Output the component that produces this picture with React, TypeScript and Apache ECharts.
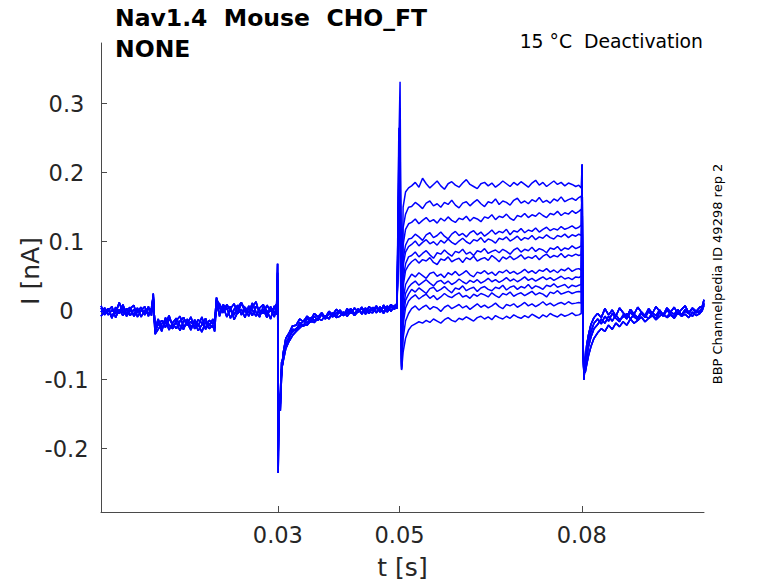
import React, { useEffect, useRef } from "react";
import * as echarts from "echarts";

// ---- time bases (ms) ----
const PRE_T: number[] = [
  0.9, 1.5, 2.1, 2.7, 3.3, 3.9, 4.5, 5.1, 5.7, 6.3, 6.9, 7.5, 8.1, 8.7, 9.2,
  9.5, 9.8,
  10.3, 10.9, 11.5, 12.1, 12.7, 13.3, 13.9, 14.5, 15.1, 15.7, 16.3, 16.9, 17.5, 18.1, 18.7, 19.3,
  19.6, 19.9,
  20.4, 21.0, 21.6, 22.2, 22.8, 23.4, 24.0, 24.6, 25.2, 25.8, 26.4, 27.0, 27.6, 28.2, 28.8, 29.4,
  29.8, 29.95, 30.05, 30.2, 30.4, 30.6,
  30.9, 31.3, 31.8, 32.4, 33.0, 33.6, 34.2, 34.8, 35.4, 36.0, 36.6, 37.2, 37.8, 38.4, 39.0, 39.6,
  40.2, 40.8, 41.4, 42.0, 42.6, 43.2, 43.8, 44.4, 45.0, 45.6, 46.2, 46.8, 47.4, 48.0, 48.6, 49.2, 49.6,
];

const STEP_T: number[] = [
  49.9, 50.1, 50.35, 50.6, 51.0, 51.5,
  52.0, 52.6, 53.2, 53.8, 54.4, 55.0, 55.6, 56.2, 56.8, 57.4,
  58.0, 58.6, 59.2, 59.8, 60.4, 61.0, 61.6, 62.2, 62.8, 63.4,
  64.0, 64.6, 65.2, 65.8, 66.4, 67.0, 67.6, 68.2, 68.8, 69.4,
  70.0, 70.6, 71.2, 71.8, 72.4, 73.0, 73.6, 74.2, 74.8, 75.4,
  76.0, 76.6, 77.2, 77.8, 78.4, 79.0,
  79.5, 79.9,
];

const POST_T: number[] = [
  80.05, 80.2, 80.35, 80.55, 80.8, 81.1, 81.5, 82.0,
  82.6, 83.2, 83.8, 84.4, 85.0, 85.6, 86.2, 86.8, 87.4, 88.0, 88.6, 89.2, 89.8, 90.4, 91.0, 91.6,
  92.2, 92.8, 93.4, 94.0, 94.6, 95.2, 95.8, 96.4, 97.0, 97.6, 98.2, 98.8, 99.4,
  99.8, 100.1,
];

// ---- current (nA) before the test step, four recorded variants ----
const PRE_A: number[] = [
  -0.002, 0.004, -0.006, 0.001, -0.004, 0.012, -0.003, 0.003, -0.007, 0.002, -0.001, 0.005, -0.006, 0.003, -0.002,
  0.025, -0.030,
  -0.020, -0.014, -0.024, -0.012, -0.019, -0.026, -0.015, -0.010, -0.021, -0.016, -0.023, -0.013, -0.018, -0.025, -0.014, -0.019,
  -0.016, 0.019,
  0.004, -0.003, 0.009, 0.000, -0.006, 0.005, 0.012, -0.002, 0.003, -0.007, 0.006, 0.001, -0.004, 0.008, -0.001, 0.004,
  0.010, 0.068, -0.235, -0.130, -0.145, -0.095,
  -0.060, -0.040, -0.033, -0.022, -0.021, -0.012, -0.016, -0.008, -0.013, -0.004, -0.009, -0.003, -0.010, -0.001, -0.006, 0.002,
  -0.003, -0.007, 0.003, -0.004, 0.004, -0.002, 0.005, -0.003, 0.006, 0.000, 0.007, -0.002, 0.008, 0.001, 0.009, 0.004, 0.010,
];
const PRE_B: number[] = [
  -0.008, -0.001, 0.003, -0.009, 0.002, -0.004, 0.005, -0.008, 0.000, -0.005, 0.004, -0.009, 0.001, -0.004, 0.003,
  0.012, -0.034,
  -0.027, -0.019, -0.013, -0.028, -0.017, -0.011, -0.022, -0.027, -0.012, -0.024, -0.017, -0.029, -0.020, -0.011, -0.026, -0.021,
  -0.030, 0.010,
  -0.005, 0.006, -0.009, 0.003, 0.010, -0.004, 0.002, -0.010, 0.007, 0.001, -0.008, 0.004, 0.009, -0.006, 0.003, -0.009,
  0.004, 0.045, -0.185, -0.140, -0.135, -0.085,
  -0.072, -0.055, -0.045, -0.036, -0.030, -0.025, -0.020, -0.021, -0.015, -0.017, -0.011, -0.014, -0.007, -0.012, -0.004, -0.010,
  -0.008, -0.002, -0.008, -0.001, -0.006, 0.003, -0.005, 0.002, -0.004, 0.005, -0.003, 0.006, -0.002, 0.007, -0.001, 0.008, 0.003,
];
const PRE_C: number[] = [
  0.004, -0.006, 0.000, 0.006, -0.010, 0.002, -0.007, 0.001, 0.005, -0.008, -0.002, 0.001, -0.004, 0.006, -0.007,
  0.018, -0.026,
  -0.012, -0.025, -0.018, -0.007, -0.023, -0.017, -0.029, -0.014, -0.019, -0.009, -0.026, -0.020, -0.031, -0.016, -0.022, -0.012,
  -0.022, 0.014,
  0.010, -0.001, 0.004, -0.011, 0.002, 0.008, -0.006, 0.005, -0.003, 0.011, -0.002, -0.009, 0.006, 0.000, -0.012, 0.007,
  -0.006, 0.030, -0.160, -0.125, -0.120, -0.075,
  -0.066, -0.050, -0.038, -0.031, -0.026, -0.022, -0.014, -0.018, -0.010, -0.014, -0.012, -0.006, -0.012, -0.004, -0.009, -0.003,
  0.001, -0.005, -0.002, 0.003, -0.004, 0.001, -0.003, 0.004, -0.002, -0.003, 0.004, 0.000, 0.005, -0.002, 0.006, 0.002, 0.012,
];
const PRE_D: number[] = [
  0.007, -0.004, 0.002, -0.011, 0.005, -0.002, 0.009, -0.005, 0.003, 0.008, -0.009, 0.000, 0.006, -0.008, 0.004,
  0.020, -0.028,
  -0.016, -0.030, -0.010, -0.021, -0.026, -0.014, -0.008, -0.024, -0.018, -0.028, -0.013, -0.022, -0.009, -0.027, -0.019, -0.024,
  -0.025, 0.016,
  -0.008, 0.009, 0.002, 0.006, -0.013, -0.002, 0.010, 0.004, -0.008, 0.005, 0.013, -0.005, 0.002, -0.010, 0.006, -0.003,
  0.002, 0.055, -0.210, -0.138, -0.128, -0.090,
  -0.062, -0.046, -0.041, -0.027, -0.028, -0.017, -0.023, -0.011, -0.017, -0.008, -0.014, -0.005, -0.009, -0.011, -0.003, -0.008,
  0.000, -0.006, -0.004, 0.002, -0.007, -0.001, 0.003, -0.005, 0.001, 0.004, -0.002, 0.003, -0.004, 0.005, 0.000, 0.006, 0.008,
];

// ---- current (nA) during the test step, one per sweep ----
const STEP_1: number[] = [0.265, 0.200, -0.020, 0.150, 0.172, 0.178,
  0.181, 0.186, 0.179, 0.192, 0.184, 0.178, 0.183, 0.188, 0.181, 0.176,
  0.184, 0.187, 0.182, 0.179, 0.185, 0.190, 0.183, 0.180, 0.177, 0.184,
  0.186, 0.181, 0.185, 0.179, 0.183, 0.188, 0.184, 0.180, 0.186, 0.182,
  0.187, 0.183, 0.179, 0.185, 0.189, 0.182, 0.186, 0.180, 0.184, 0.188,
  0.183, 0.186, 0.181, 0.185, 0.183, 0.180,
  0.182, 0.178];
const STEP_2: number[] = [0.240, 0.332, -0.040, 0.120, 0.140, 0.150,
  0.151, 0.157, 0.153, 0.148, 0.156, 0.159, 0.152, 0.155, 0.150, 0.157,
  0.154, 0.160, 0.153, 0.149, 0.156, 0.158, 0.152, 0.157, 0.161, 0.155,
  0.151, 0.158, 0.156, 0.162, 0.154, 0.159, 0.157, 0.153, 0.160, 0.163,
  0.156, 0.159, 0.155, 0.161, 0.158, 0.164, 0.157, 0.160, 0.156, 0.162,
  0.159, 0.165, 0.158, 0.161, 0.163, 0.160,
  0.164, 0.166];
const STEP_3: number[] = [0.220, 0.260, -0.050, 0.095, 0.118, 0.126,
  0.128, 0.133, 0.126, 0.131, 0.135, 0.129, 0.132, 0.127, 0.134, 0.130,
  0.136, 0.131, 0.128, 0.134, 0.132, 0.137, 0.130, 0.135, 0.133, 0.129,
  0.136, 0.134, 0.139, 0.132, 0.137, 0.135, 0.140, 0.134, 0.131, 0.138,
  0.136, 0.141, 0.135, 0.139, 0.137, 0.142, 0.138, 0.135, 0.141, 0.139,
  0.144, 0.138, 0.142, 0.140, 0.145, 0.141,
  0.144, 0.147];
const STEP_4: number[] = [0.200, 0.230, -0.060, 0.075, 0.095, 0.104,
  0.105, 0.111, 0.107, 0.102, 0.110, 0.113, 0.106, 0.109, 0.114, 0.108,
  0.104, 0.111, 0.115, 0.109, 0.112, 0.107, 0.113, 0.116, 0.110, 0.114,
  0.108, 0.112, 0.117, 0.111, 0.115, 0.113, 0.118, 0.110, 0.116, 0.114,
  0.119, 0.113, 0.117, 0.115, 0.120, 0.114, 0.118, 0.121, 0.116, 0.119,
  0.117, 0.122, 0.118, 0.120, 0.123, 0.119,
  0.121, 0.124];
const STEP_5: number[] = [0.190, 0.215, -0.065, 0.065, 0.085, 0.093,
  0.096, 0.101, 0.094, 0.099, 0.103, 0.097, 0.100, 0.095, 0.102, 0.098,
  0.104, 0.099, 0.096, 0.101, 0.105, 0.100, 0.097, 0.103, 0.101, 0.106,
  0.099, 0.104, 0.102, 0.098, 0.105, 0.103, 0.107, 0.101, 0.104, 0.108,
  0.102, 0.106, 0.104, 0.109, 0.103, 0.107, 0.105, 0.110, 0.106, 0.104,
  0.109, 0.107, 0.111, 0.106, 0.110, 0.108,
  0.111, 0.109];
const STEP_6: number[] = [0.180, 0.200, -0.070, 0.045, 0.068, 0.078,
  0.080, 0.085, 0.078, 0.083, 0.087, 0.081, 0.076, 0.084, 0.082, 0.088,
  0.083, 0.079, 0.086, 0.084, 0.089, 0.082, 0.085, 0.080, 0.087, 0.085,
  0.090, 0.083, 0.086, 0.088, 0.084, 0.089, 0.086, 0.082, 0.088, 0.091,
  0.085, 0.089, 0.087, 0.092, 0.086, 0.090, 0.088, 0.084, 0.091, 0.089,
  0.093, 0.087, 0.091, 0.089, 0.094, 0.090,
  0.092, 0.094];
const STEP_7: number[] = [0.170, 0.190, -0.075, 0.035, 0.058, 0.066,
  0.071, 0.075, 0.069, 0.074, 0.072, 0.077, 0.070, 0.067, 0.075, 0.073,
  0.078, 0.071, 0.074, 0.076, 0.070, 0.077, 0.074, 0.079, 0.072, 0.075,
  0.077, 0.073, 0.080, 0.076, 0.071, 0.078, 0.075, 0.079, 0.074, 0.077,
  0.081, 0.075, 0.078, 0.076, 0.080, 0.074, 0.079, 0.082, 0.077, 0.080,
  0.078, 0.083, 0.077, 0.081, 0.079, 0.082,
  0.080, 0.081];
const STEP_8: number[] = [0.160, 0.175, -0.078, 0.015, 0.038, 0.046,
  0.053, 0.049, 0.055, 0.051, 0.047, 0.054, 0.056, 0.050, 0.053, 0.048,
  0.055, 0.052, 0.057, 0.051, 0.054, 0.058, 0.052, 0.049, 0.056, 0.054,
  0.058, 0.053, 0.056, 0.051, 0.057, 0.055, 0.059, 0.054, 0.057, 0.053,
  0.056, 0.060, 0.055, 0.058, 0.054, 0.059, 0.057, 0.061, 0.056, 0.059,
  0.055, 0.060, 0.058, 0.062, 0.057, 0.060,
  0.061, 0.059];
const STEP_9: number[] = [0.150, 0.165, -0.080, 0.000, 0.025, 0.034,
  0.039, 0.043, 0.037, 0.041, 0.045, 0.040, 0.036, 0.042, 0.044, 0.039,
  0.043, 0.038, 0.041, 0.046, 0.042, 0.039, 0.044, 0.041, 0.045, 0.040,
  0.043, 0.047, 0.042, 0.045, 0.041, 0.044, 0.048, 0.043, 0.046, 0.042,
  0.045, 0.049, 0.044, 0.047, 0.043, 0.046, 0.049, 0.045, 0.048, 0.044,
  0.047, 0.050, 0.046, 0.048, 0.045, 0.049,
  0.048, 0.050];
const STEP_10: number[] = [0.140, 0.155, -0.082, -0.010, 0.015, 0.024,
  0.031, 0.027, 0.033, 0.029, 0.025, 0.032, 0.034, 0.028, 0.031, 0.035,
  0.030, 0.026, 0.033, 0.031, 0.036, 0.029, 0.032, 0.034, 0.028, 0.033,
  0.035, 0.031, 0.029, 0.034, 0.032, 0.037, 0.030, 0.034, 0.036, 0.031,
  0.035, 0.033, 0.038, 0.032, 0.036, 0.034, 0.031, 0.037, 0.035, 0.039,
  0.034, 0.036, 0.038, 0.033, 0.037, 0.035,
  0.037, 0.038];
const STEP_11: number[] = [0.130, 0.145, -0.084, -0.020, 0.004, 0.014,
  0.019, 0.023, 0.017, 0.021, 0.024, 0.018, 0.022, 0.016, 0.020, 0.025,
  0.021, 0.019, 0.023, 0.026, 0.020, 0.022, 0.018, 0.024, 0.021, 0.025,
  0.023, 0.020, 0.026, 0.022, 0.019, 0.025, 0.023, 0.027, 0.021, 0.024,
  0.026, 0.022, 0.025, 0.028, 0.023, 0.026, 0.024, 0.020, 0.027, 0.025,
  0.029, 0.024, 0.026, 0.028, 0.025, 0.027,
  0.028, 0.027];
const STEP_12: number[] = [0.125, 0.135, -0.085, -0.040, -0.015, -0.004,
  0.003, 0.007, 0.001, 0.005, 0.008, 0.002, 0.006, 0.004, -0.001, 0.005,
  0.008, 0.003, 0.006, 0.009, 0.004, 0.007, 0.002, 0.006, 0.010, 0.005,
  0.008, 0.004, 0.007, 0.011, 0.006, 0.003, 0.009, 0.007, 0.010, 0.005,
  0.008, 0.012, 0.007, 0.010, 0.006, 0.009, 0.013, 0.008, 0.011, 0.007,
  0.010, 0.012, 0.009, 0.013, 0.010, 0.011,
  0.012, 0.011];
const STEP_13: number[] = [0.120, 0.125, -0.086, -0.060, -0.040, -0.028,
  -0.022, -0.019, -0.016, -0.018, -0.014, -0.017, -0.012, -0.015, -0.018, -0.013,
  -0.010, -0.014, -0.016, -0.011, -0.013, -0.009, -0.012, -0.015, -0.010, -0.008,
  -0.012, -0.009, -0.013, -0.007, -0.010, -0.012, -0.008, -0.011, -0.006, -0.009,
  -0.011, -0.007, -0.010, -0.005, -0.008, -0.011, -0.006, -0.009, -0.004, -0.007,
  -0.009, -0.005, -0.008, -0.006, -0.003, -0.007,
  -0.006, -0.004];

// ---- current (nA) after the step, four recorded variants ----
const POST_A: number[] = [0.212, -0.040, -0.100, -0.075, -0.050, -0.035, -0.020, -0.010,
  -0.004, -0.010, 0.003, -0.006, 0.001, -0.008, 0.004, -0.003, -0.009, 0.002,
  -0.005, 0.005, -0.002, -0.007, 0.003, -0.004, 0.006, -0.001, -0.006, 0.004,
  -0.002, 0.005, -0.005, 0.002, 0.007, -0.003, 0.004, -0.001, 0.005,
  0.006, 0.016];
const POST_B: number[] = [0.150, -0.060, -0.090, -0.085, -0.068, -0.052, -0.038, -0.026,
  -0.020, -0.012, -0.018, -0.008, -0.015, -0.006, -0.013, -0.009, -0.004, -0.012,
  -0.005, -0.010, -0.002, -0.008, -0.011, -0.003, -0.007, 0.001, -0.006, -0.009,
  -0.002, -0.005, 0.002, -0.006, -0.001, -0.004, 0.003, -0.003, 0.000,
  0.004, 0.010];
const POST_C: number[] = [0.100, -0.050, -0.080, -0.090, -0.078, -0.065, -0.052, -0.040,
  -0.032, -0.026, -0.030, -0.021, -0.027, -0.018, -0.023, -0.016, -0.021, -0.012,
  -0.018, -0.014, -0.009, -0.016, -0.011, -0.007, -0.013, -0.008, -0.004, -0.010,
  -0.006, -0.011, -0.003, -0.008, -0.005, -0.010, -0.002, -0.007, -0.004,
  0.000, 0.008];
const POST_D: number[] = [0.180, -0.050, -0.095, -0.080, -0.060, -0.045, -0.030, -0.018,
  -0.012, -0.019, -0.008, -0.015, -0.004, -0.011, -0.016, -0.006, -0.012, -0.002,
  -0.009, -0.013, -0.004, -0.010, -0.001, -0.007, -0.011, -0.003, -0.008, 0.001,
  -0.005, -0.009, -0.002, -0.006, 0.002, -0.004, -0.008, 0.000, -0.003,
  0.003, 0.012];

const PRE_VARIANTS = [PRE_A, PRE_B, PRE_C, PRE_D];
const POST_VARIANTS = [POST_A, POST_B, POST_C, POST_D];
const STEPS = [STEP_1, STEP_2, STEP_3, STEP_4, STEP_5, STEP_6, STEP_7, STEP_8, STEP_9, STEP_10, STEP_11, STEP_12, STEP_13];

// ---- ticks ----
const X_TICKS_MS: number[] = [30, 50, 80];
const Y_TICKS: number[] = [-0.2, -0.1, 0, 0.1, 0.2, 0.3];

const TITLE_1 = "Nav1.4  Mouse  CHO_FT";
const TITLE_2 = "NONE";
const SUBTITLE = "15 °C  Deactivation";
const SIDE_NOTE = "BBP Channelpedia ID 49298 rep 2";
const X_NAME = "t [s]";
const Y_NAME = "I [nA]";

const FONT = '"DejaVu Sans", "Noto Sans", sans-serif';
const TEXT_COLOR = "#262626";
const AXIS_COLOR = "#4a4a4a";

function pairs(t: number[], v: number[]): number[][] {
  const out: number[][] = [];
  const n = Math.min(t.length, v.length);
  for (let k = 0; k < n; k++) out.push([t[k], v[k]]);
  return out;
}

export default function App() {
  const ref = useRef<HTMLDivElement>(null);
  useEffect(() => {
    if (!ref.current) return;
    const chart = echarts.init(ref.current, undefined, { renderer: "svg" });
    const series = STEPS.map((step, i) => ({
      type: "line",
      data: [
        ...pairs(PRE_T, PRE_VARIANTS[i % 4]),
        ...pairs(STEP_T, step),
        ...pairs(POST_T, POST_VARIANTS[i % 4]),
      ],
      showSymbol: false,
      symbol: "none",
      lineStyle: { color: "#0000ff", width: 1.5 },
      itemStyle: { color: "#0000ff" },
      silent: true,
    }));
    chart.setOption({
      animation: false,
      grid: { left: 101, top: 43, width: 603, height: 469, containLabel: false },
      xAxis: {
        type: "value",
        min: 0.9,
        max: 100.1,
        splitLine: { show: false },
        axisLine: { show: true, onZero: false, lineStyle: { color: AXIS_COLOR, width: 1 } },
        axisTick: { show: true, inside: true, length: 6, customValues: X_TICKS_MS, lineStyle: { color: AXIS_COLOR } },
        axisLabel: {
          customValues: X_TICKS_MS,
          formatter: (v: number) => String(v / 1000),
          margin: 11,
          fontSize: 22.5,
          fontFamily: FONT,
          color: TEXT_COLOR,
        },
      },
      yAxis: {
        type: "value",
        min: -0.2917,
        max: 0.388,
        splitLine: { show: false },
        axisLine: { show: true, onZero: false, lineStyle: { color: AXIS_COLOR, width: 1 } },
        axisTick: { show: true, inside: true, length: 6, customValues: Y_TICKS, lineStyle: { color: AXIS_COLOR } },
        axisLabel: {
          customValues: Y_TICKS,
          formatter: (v: number) => String(v),
          align: "center",
          margin: 34.5,
          fontSize: 22.5,
          fontFamily: FONT,
          color: TEXT_COLOR,
        },
      },
      graphic: [
        {
          type: "text",
          x: 115,
          y: 18,
          style: { text: TITLE_1, font: `bold 23.5px ${FONT}`, fill: "#000", verticalAlign: "middle", align: "left" },
        },
        {
          type: "text",
          x: 115,
          y: 48.5,
          style: { text: TITLE_2, font: `bold 23.5px ${FONT}`, fill: "#000", verticalAlign: "middle", align: "left" },
        },
        {
          type: "text",
          x: 703,
          y: 41,
          style: { text: SUBTITLE, font: `18.8px ${FONT}`, fill: "#000", verticalAlign: "middle", align: "right" },
        },
        {
          type: "text",
          x: 717,
          y: 274,
          rotation: Math.PI / 2,
          style: { text: SIDE_NOTE, font: `13px ${FONT}`, fill: "#000", verticalAlign: "middle", align: "center" },
        },
        {
          type: "text",
          x: 402.5,
          y: 567,
          style: { text: X_NAME, font: `25px ${FONT}`, fill: TEXT_COLOR, verticalAlign: "middle", align: "center" },
        },
        {
          type: "text",
          x: 30,
          y: 271,
          rotation: Math.PI / 2,
          style: { text: Y_NAME, font: `25px ${FONT}`, fill: TEXT_COLOR, verticalAlign: "middle", align: "center" },
        },
      ],
      series,
    });
    return () => chart.dispose();
  }, []);
  return (
    <div
      ref={ref}
      style={{ position: "absolute", left: 0, top: 0, width: 778, height: 583, background: "#fff" }}
    />
  );
}
